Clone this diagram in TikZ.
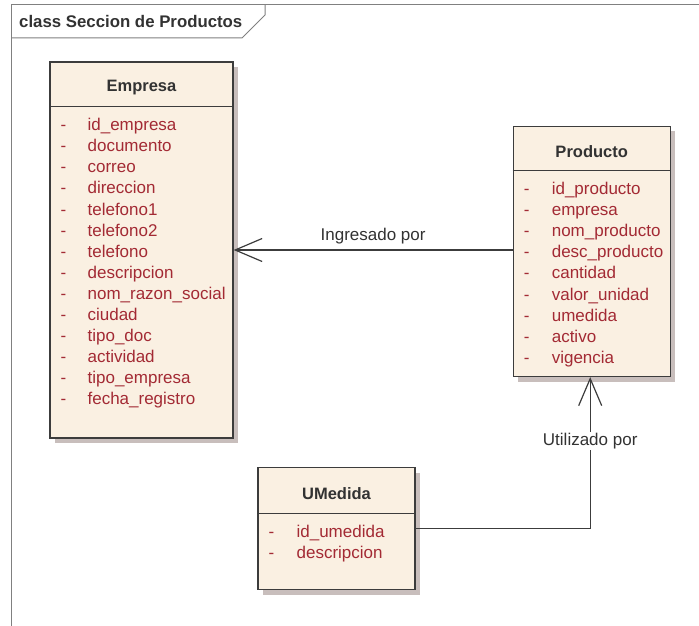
\documentclass[tikz,border=0pt]{standalone}
\usepackage{fontspec}
\setmainfont{Liberation Sans}
\usepackage{tikz}
\usetikzlibrary{positioning,calc,arrows.meta,shadows}

\definecolor{classfill}{RGB}{250,240,226}
\definecolor{attrred}{RGB}{163,42,52}
\definecolor{linegray}{RGB}{60,60,60}
\definecolor{textgray}{RGB}{50,50,50}
\definecolor{shadowgray}{RGB}{200,190,188}
\definecolor{framegray}{RGB}{128,128,128}

\tikzset{
  classbox/.style={draw=linegray, line width=1.2pt, fill=classfill, inner sep=0pt,
    drop shadow={shadow xshift=5pt, shadow yshift=-5pt, fill=shadowgray, opacity=1}},
  classname/.style={font=\fontsize{16.5}{19}\selectfont\bfseries, text=textgray},
  attr/.style={anchor=west, inner sep=0pt, text height=12pt, text depth=3.5pt,
    font=\fontsize{17}{20}\selectfont, text=attrred},
  sepline/.style={draw=linegray, line width=1.2pt},
  umlline/.style={draw=linegray, line width=1.2pt, -{Straight Barb[length=27pt,width=23pt]}},
  linklabel/.style={font=\fontsize{17}{20}\selectfont, text=textgray}
}

\begin{document}
\begin{tikzpicture}[x=1pt, y=1pt]
    \useasboundingbox (0,0) rectangle (699,625);

    % frame of the diagram
    \draw[framegray, line width=1pt] (11,-5) -- (11,620) -- (705,620);
    \draw[framegray, line width=1pt] (11,587) -- (242,587) -- (265,610) -- (265,620);
    \node[anchor=west, inner sep=0pt, font=\fontsize{16.8}{19}\selectfont\bfseries, text=textgray] (title) at (19,604) {class Seccion de Productos};

    % classes
    \node [classbox, minimum width=183pt, minimum height=376pt] (empresa) at (141.5,375) {};
    \node [classbox, minimum width=157pt, minimum height=250pt, right=279pt of empresa, yshift=-1.5pt] (producto) {};
    \node [classbox, minimum width=157pt, minimum height=122pt, below left=90pt and 97pt of producto.south west] (umedida) {};

    % headers
    \node [classname] (empresaname) at ($(empresa.north)+(0,-26)$) {Empresa};
    \node [classname] (productoname) at ($(producto.north)+(0,-26)$) {Producto};
    \node [classname] (umedidaname) at ($(umedida.north)+(0,-26)$) {UMedida};
    \draw [sepline] ($(empresa.north west)+(0,-45)$) -- ($(empresa.north east)+(0,-45)$);
    \draw [sepline] ($(producto.north west)+(0,-45)$) -- ($(producto.north east)+(0,-45)$);
    \draw [sepline] ($(umedida.north west)+(0,-46)$) -- ($(umedida.north east)+(0,-46)$);

    % attributes
    \foreach \a [count=\i] in {id\_empresa, documento, correo, direccion, telefono1, telefono2, telefono,
        descripcion, nom\_razon\_social, ciudad, tipo\_doc, actividad, tipo\_empresa, fecha\_registro} {
      \node [attr] at ($(empresa.north west)+(11,{-65-(\i-1)*21.1})$) {-};
      \node [attr] at ($(empresa.north west)+(38,{-65-(\i-1)*21.1})$) {\a};
    }
    \foreach \a [count=\i] in {id\_producto, empresa, nom\_producto, desc\_producto, cantidad,
        valor\_unidad, umedida, activo, vigencia} {
      \node [attr] at ($(producto.north west)+(11,{-64-(\i-1)*21.2})$) {-};
      \node [attr] at ($(producto.north west)+(39,{-64-(\i-1)*21.2})$) {\a};
    }
    \foreach \a [count=\i] in {id\_umedida, descripcion} {
      \node [attr] at ($(umedida.north west)+(11,{-66-(\i-1)*21.1})$) {-};
      \node [attr] at ($(umedida.north west)+(39,{-66-(\i-1)*21.1})$) {\a};
    }

    % associations
    \draw [umlline] (producto.west |- empresa.east) -- node [linklabel, above=2pt] {Ingresado por} (empresa.east);
    \draw [umlline] (umedida.east) -| node [linklabel, pos=0.79, fill=white, inner sep=1pt] {Utilizado por} ([xshift=-1.5pt]producto.south);
\end{tikzpicture}
\end{document}
